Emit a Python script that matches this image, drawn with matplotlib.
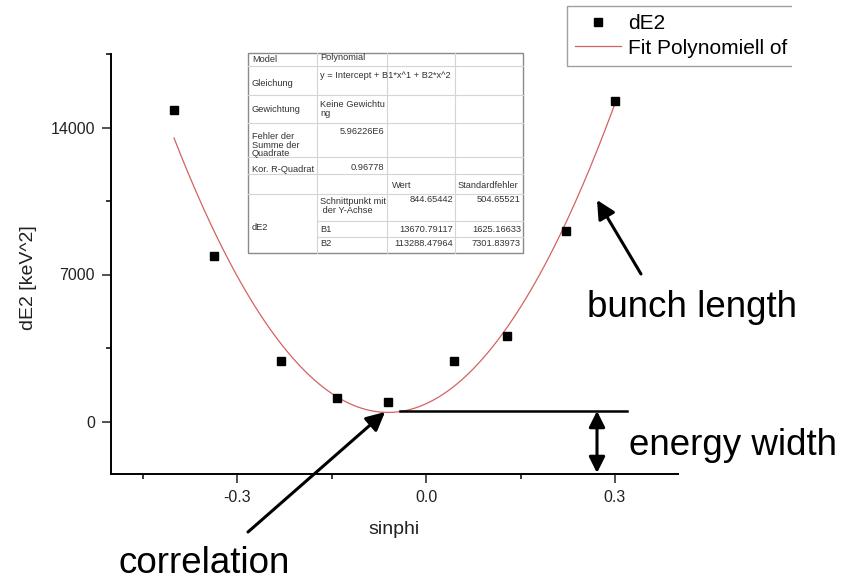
import numpy as np
import matplotlib
matplotlib.use("Agg")
import matplotlib.pyplot as plt
import matplotlib.transforms as mtransforms
from matplotlib.lines import Line2D
from matplotlib.patches import Rectangle

plt.rcParams['font.family'] = ['Liberation Sans', 'DejaVu Sans']

# measured points
sinphi = [-0.400, -0.337, -0.230, -0.141, -0.060, 0.044, 0.128, 0.222, 0.300]
dE2 = [14810, 7860, 2860, 1100, 950, 2860, 4050, 9050, 15240]

# fit result table
row_labels = ["Model", "Gleichung", "Gewichtung", "Fehler der\nSumme der\nQuadrate", "Kor. R-Quadrat"]
row_values = ["Polynomial", "y = Intercept + B1*x^1 + B2*x^2", "Keine Gewichtu\nng", "5.96226E6", "0.96778"]
col_headers = ["Wert", "Standardfehler"]
param_names = ["Schnittpunkt mit\n der Y-Achse", "B1", "B2"]
param_values = ["844.65442", "13670.79117", "113288.47964"]
param_errors = ["504.65521", "1625.16633", "7301.83973"]

xticks = [-0.3, 0.0, 0.3]
yticks = [0, 7000, 14000]

W, H = 844, 582
fig = plt.figure(figsize=(W / 100, H / 100), dpi=100)
ax = fig.add_axes([111 / W, 1 - 474 / H, 567 / W, 420 / H])
# pixel coords, origin top-left
px = mtransforms.Affine2D().scale(1 / W, -1 / H).translate(0, 1) + fig.transFigure

coef = [float(v) for v in param_values]
xs = np.linspace(min(sinphi), max(sinphi), 300)
ax.plot(xs, np.polyval(coef[::-1], xs), color='#d46262', lw=0.9,
        label="Fit Polynomiell of dE2", zorder=2)
ax.plot(sinphi, dE2, 's', color='black', ms=6.3, label="dE2", zorder=3)

ax.set_xlim(-0.5, 0.4)
ax.set_ylim(-2500, 17500)
ax.set_xticks(xticks)
ax.set_xticklabels([f"{t:.1f}" for t in xticks])
ax.set_xticks([-0.45, -0.15, 0.15], minor=True)
ax.set_yticks(yticks)
ax.set_yticks([3500, 10500, 17500], minor=True)
for s in ['top', 'right']:
    ax.spines[s].set_visible(False)
for s in ['left', 'bottom']:
    ax.spines[s].set_linewidth(1.4)
ax.tick_params(which='major', direction='out', length=6.5, width=1.1, pad=5,
               labelsize=11.5, colors='#222222')
ax.tick_params(which='minor', direction='out', length=3.3, width=1.1)

ax.set_xlabel("sinphi", fontsize=14, color='#222222')
ax.xaxis.set_label_coords(0.5, -0.131)
ax.xaxis.label.set_va('center')
ax.set_ylabel("dE2 [keV^2]", fontsize=14, color='#222222')
ax.yaxis.set_label_coords(-0.145, 0.467)
ax.yaxis.label.set_va('center')

# legend, cut off at the right like the original
handles, labels = ax.get_legend_handles_labels()
leg = ax.legend(handles[::-1], labels[::-1], loc='upper left',
                bbox_to_anchor=(567 / W, 1 - 6 / H), bbox_transform=fig.transFigure,
                fontsize=15, frameon=True, fancybox=False, edgecolor='#888888',
                handlelength=2.2, handletextpad=0.33, labelspacing=0.25,
                borderpad=0.4, borderaxespad=0)
leg.get_frame().set_linewidth(1.0)
fig.add_artist(Rectangle((792, 0), 60, 75, transform=px, facecolor='white',
                         edgecolor='none', zorder=20))

# parameter table
tx = [248, 317, 387, 455, 523]
ty = [53, 66, 95, 123, 157, 174, 194, 221, 237, 253]
grid = '#d4d4d4'
for y in ty[1:-1]:
    x0 = tx[1] if y in (221, 237) else tx[0]
    fig.add_artist(Line2D([x0, tx[-1]], [y, y], transform=px, color=grid, lw=0.8))
for x in tx[1:-1]:
    fig.add_artist(Line2D([x, x], [ty[0], ty[-1]], transform=px, color=grid, lw=0.8))
fig.add_artist(Rectangle((tx[0], ty[0]), tx[-1] - tx[0], ty[-1] - ty[0], transform=px,
                         facecolor='none', edgecolor='#8a8a8a', lw=1.0))

tk = dict(transform=px, fontsize=6.7, color='#333333', linespacing=0.95)
label_y = [60, 83, 110, 145, 170]
value_y = [57, 75, 109, 132, 167]
for lab, yy in zip(row_labels, label_y):
    fig.text(252, yy, lab, va='center', ha='left', **tk)
for i, (val, yy) in enumerate(zip(row_values, value_y)):
    if i >= 3:
        fig.text(384, yy, val, va='center', ha='right', **tk)
    else:
        fig.text(320, yy, val, va='center', ha='left', **tk)
fig.text(392, 185, col_headers[0], va='center', ha='left', **tk)
fig.text(458, 185, col_headers[1], va='center', ha='left', **tk)
fig.text(252, 228, "dE2", va='center', ha='left', **tk)
name_y = [206, 230, 244]
vals_y = [200, 230, 244]
for name, val, err, yn, yv in zip(param_names, param_values, param_errors, name_y, vals_y):
    fig.text(320, yn, name, va='center', ha='left', **tk)
    fig.text(453, yv, val, va='center', ha='right', **tk)
    fig.text(521, yv, err, va='center', ha='right', **tk)

# annotations
arrow = dict(arrowstyle='-|>', color='black', lw=2.2, mutation_scale=28,
             shrinkA=0, shrinkB=0)
fig.add_artist(Line2D([400, 627], [411, 411], transform=px, color='black', lw=1.8))
ax.annotate("", xy=(597, 200), xycoords=px, xytext=(641, 274), textcoords=px,
            arrowprops=arrow)
ax.annotate("", xy=(385, 412), xycoords=px, xytext=(248, 532), textcoords=px,
            arrowprops=arrow, annotation_clip=False)
ax.annotate("", xy=(597, 411), xycoords=px, xytext=(597, 473), textcoords=px,
            arrowprops=dict(arrowstyle='<|-|>', color='black', lw=2.2,
                            mutation_scale=24, shrinkA=0, shrinkB=0))
fig.text(587, 317, "bunch length", transform=px, fontsize=26.5, va='baseline')
fig.text(629, 455, "energy width", transform=px, fontsize=26.5, va='baseline')
fig.text(118, 573, "correlation", transform=px, fontsize=26.5, va='baseline')

fig.savefig("out.png", dpi=100)
